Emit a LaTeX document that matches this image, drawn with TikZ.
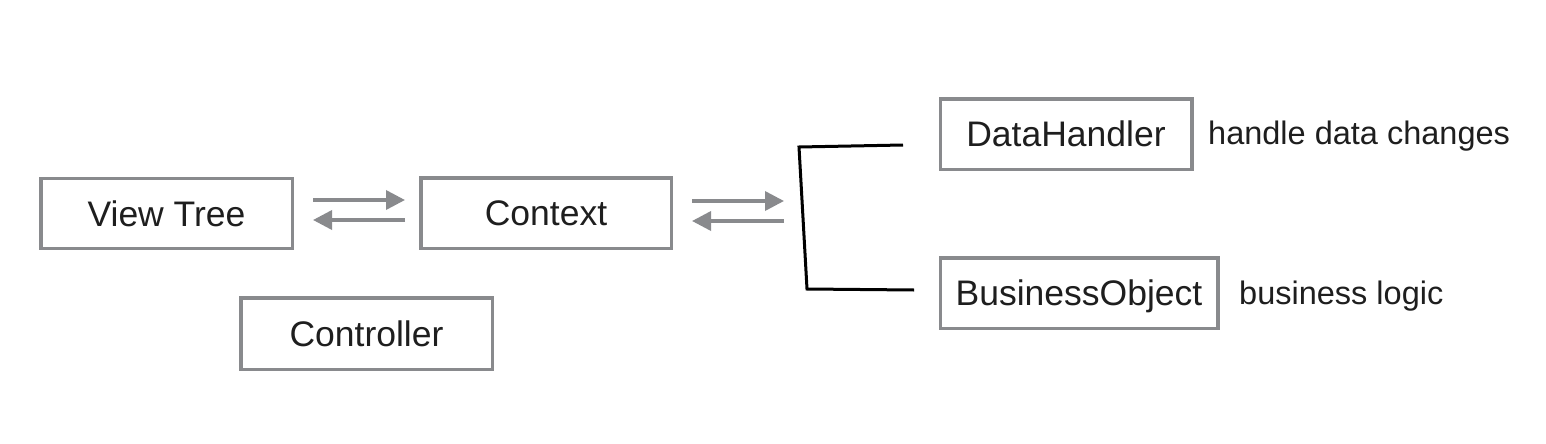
\documentclass[tikz,border=0pt]{standalone}
\usepackage{fontspec}
\setmainfont{Liberation Sans}
\usetikzlibrary{arrows.meta,calc}
\definecolor{boxgray}{RGB}{137,138,141}
\definecolor{txt}{RGB}{30,30,30}
\tikzset{
  box/.style={draw=boxgray, line width=3.5pt, rectangle, inner sep=0pt,
    text=txt, font=\fontsize{35.5}{42}\selectfont, text height=25.5pt, text depth=0.5pt},
  note/.style={anchor=west, inner sep=0pt, text=txt, font=\fontsize{32.5}{38}\selectfont,
    text height=23.4pt, text depth=0.5pt},
  flow/.style={draw=boxgray, line width=3.5pt, -{Triangle[length=19pt,width=19pt]}},
  bracketline/.style={draw=black, line width=3pt, line join=miter}
}
\begin{document}
\begin{tikzpicture}[x=1pt,y=-1pt]
\useasboundingbox (0,0) rectangle (1546,444);
\node[box, minimum width=251.5pt, minimum height=70pt] (vt) at (166.5,213.5) {View Tree};
\node[box, minimum width=250.5pt, minimum height=70.5pt] (ctx) at (546,213) {Context};
\node[box, minimum width=251.5pt, minimum height=71.5pt] (ctrl) at (366.5,333.5) {Controller};
\node[box, minimum width=251.5pt, minimum height=70.5pt] (dh) at (1066,134) {DataHandler};
\node[box, minimum width=277.5pt, minimum height=70.5pt] (bo) at (1079,293) {BusinessObject};
\node[note] (n1) at (1208,133) {handle data changes};
\node[note] (n2) at (1239,293) {business logic};
% bracket
\coordinate (b1) at (903,145);
\coordinate (b2) at (799,147);
\coordinate (b3) at (807,289);
\coordinate (b4) at (914,290);
\coordinate (br) at (784,213);
\draw[bracketline] (b1) -- (b2) -- (b3) -- (b4);
% arrows view tree <-> context
\draw[flow] ([xshift=19pt,yshift=13.5pt]vt.east) -- ([xshift=-14pt,yshift=13.5pt]vt.east -| ctx.west);
\draw[flow] ([xshift=-14pt,yshift=-6.5pt]vt.east -| ctx.west) -- ([xshift=19pt,yshift=-6.5pt]vt.east);
% arrows context <-> bracket
\draw[flow] ([xshift=19pt,yshift=12pt]ctx.east) -- ([yshift=12pt]br);
\draw[flow] ([yshift=-8pt]br) -- ([xshift=19pt,yshift=-8pt]ctx.east);
\end{tikzpicture}
\end{document}
